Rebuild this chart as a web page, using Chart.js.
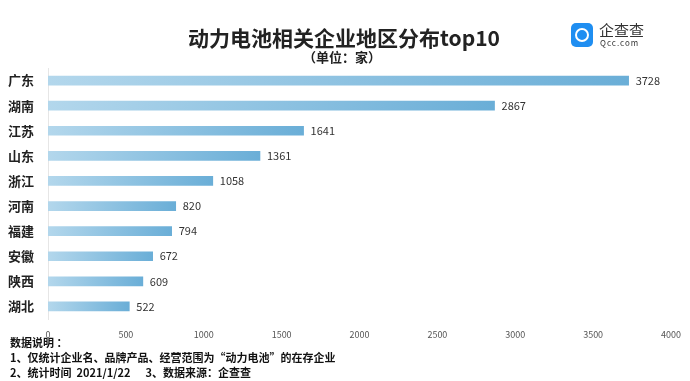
<!DOCTYPE html>
<html><head><meta charset="utf-8">
<script src="https://cdn.jsdelivr.net/npm/chart.js@4"></script>
<style>
body{margin:0;background:#fff;font-family:"Noto Sans CJK SC",sans-serif;}
#wrap{position:relative;width:690px;height:381px;overflow:hidden;}
canvas{position:absolute;left:0;top:0;}
.t{position:absolute;white-space:nowrap;color:#222;}
#title{left:0;width:688px;text-align:center;top:23px;font-size:21px;font-weight:bold;line-height:28px;}
#sub{left:0;width:684px;text-align:center;top:48px;font-size:13px;font-weight:bold;line-height:18px;}
.foot{left:10px;font-size:11px;font-weight:bold;line-height:14px;color:#111;}
#logo{position:absolute;left:571px;top:23px;width:22px;height:24px;border-radius:5px;background:#1f8ef1;}
#logo:after{content:"";position:absolute;left:4px;top:5px;width:10px;height:10px;border:2px solid #fff;border-radius:50%;}
#lt1{left:599px;top:20px;font-size:15px;color:#333;line-height:20px;}
#lt2{left:600px;top:38px;font-size:8px;color:#333;line-height:10px;letter-spacing:1px;}
</style></head>
<body><div id="wrap">
<canvas id="c" width="690" height="381"></canvas>
<div class="t" id="title">动力电池相关企业地区分布top10</div>
<div class="t" id="sub">（单位：家）</div>
<div id="logo"></div>
<div class="t" id="lt1">企查查</div>
<div class="t" id="lt2">Qcc.com</div>
<div class="t foot" style="top:335px">数据说明 ：</div>
<div class="t foot" style="top:350px">1、仅统计企业名、品牌产品、经营范围为“动力电池”的在存企业</div>
<div class="t foot" style="top:365px">2、统计时间 &nbsp;2021/1/22 &nbsp;&nbsp;&nbsp;&nbsp;&nbsp;3、数据来源：企查查</div>
</div>
<script>
const categories = ["广东","湖南","江苏","山东","浙江","河南","福建","安徽","陕西","湖北"];
const values = [3728,2867,1641,1361,1058,820,794,672,609,522];
const xTicks = [0,500,1000,1500,2000,2500,3000,3500,4000];

const labelPlugin = {
  id:'vals',
  afterDatasetsDraw(chart){
    const ctx = chart.ctx;
    const meta = chart.getDatasetMeta(0);
    ctx.save();
    ctx.font = '11px "Noto Sans CJK SC", sans-serif';
    ctx.fillStyle = '#333';
    ctx.textBaseline = 'middle';
    ctx.textAlign = 'left';
    meta.data.forEach((bar,i)=>{
      ctx.fillText(String(values[i]), bar.x + 7, bar.y);
    });
    ctx.restore();
  }
};

new Chart(document.getElementById('c'),{
  type:'bar',
  data:{labels:categories,datasets:[{
    data:values,
    barThickness:9,
    borderWidth:0,
    backgroundColor(ctx){
      const chart = ctx.chart;
      const area = chart.chartArea;
      if(!area) return '#8ec3e3';
      const xs = chart.scales.x;
      const x0 = xs.getPixelForValue(0);
      const x1 = xs.getPixelForValue(ctx.raw || 1);
      const g = chart.ctx.createLinearGradient(x0,0,x1,0);
      g.addColorStop(0,'#b3d7ec');
      g.addColorStop(1,'#6aaed7');
      return g;
    }
  }]},
  options:{
    responsive:false,
    animation:false,
    indexAxis:'y',
    layout:{padding:{left:8,right:19,top:68,bottom:42}},
    plugins:{legend:{display:false},tooltip:{enabled:false},title:{display:false}},
    scales:{
      x:{
        min:0,max:4000,
        afterBuildTicks(s){ s.ticks = xTicks.map(v=>({value:v})); },
        grid:{display:false},
        border:{display:false},
        ticks:{font:{size:9,family:'"Noto Sans CJK SC", sans-serif'},color:'#555',padding:2,maxRotation:0,
               callback:(v)=>String(v)},
        afterFit(s){ s.height = 20; }
      },
      y:{
        grid:{display:false},
        border:{display:true,color:'#e6e6e6'},
        ticks:{font:{size:13,weight:'bold',family:'"Noto Sans CJK SC", sans-serif'},color:'#222',padding:6},
        afterFit(s){ s.width = 40; }
      }
    }
  },
  plugins:[labelPlugin]
});
</script>
</body></html>
